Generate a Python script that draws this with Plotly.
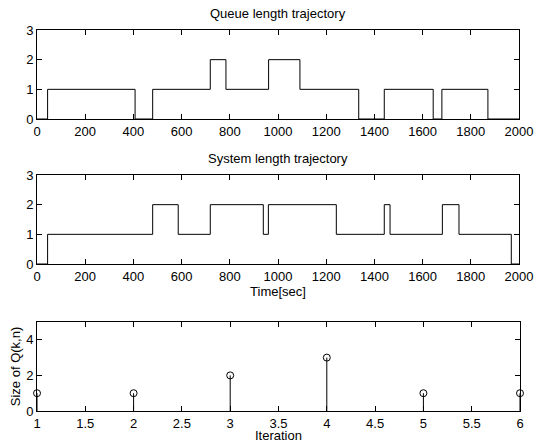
import plotly.graph_objects as go

# Data
queue_times = [0, 44, 407, 480, 719, 784, 961, 1091, 1335, 1441, 1644, 1680, 1871, 2000]
queue_values = [0, 1, 0, 1, 2, 1, 2, 1, 0, 1, 0, 1, 0, 0]
system_times = [0, 44, 480, 586, 719, 939, 960, 1242, 1441, 1465, 1682, 1751, 1968, 2000]
system_values = [0, 1, 2, 1, 2, 1, 2, 1, 2, 1, 2, 1, 0, 0]
iterations = [1, 2, 3, 4, 5, 6]
q_sizes = [1, 1, 2, 3, 1, 1]

W, H = 535, 443
FONT = "Liberation Sans, Arial, Helvetica, sans-serif"
FS = 13

def px_x(a, b):
    return [a / W, b / W]

def px_y(top, bottom):
    return [1 - bottom / H, 1 - top / H]

fig = go.Figure()
fig.add_trace(go.Scatter(x=queue_times, y=queue_values, mode="lines", line=dict(shape="hv", color="black", width=1),
                         xaxis="x", yaxis="y", showlegend=False))
fig.add_trace(go.Scatter(x=system_times, y=system_values, mode="lines", line=dict(shape="hv", color="black", width=1),
                         xaxis="x2", yaxis="y2", showlegend=False))

stem_x, stem_y = [], []
for it, v in zip(iterations, q_sizes):
    stem_x += [it, it, None]
    stem_y += [0, v, None]
fig.add_trace(go.Scatter(x=stem_x, y=stem_y, mode="lines", line=dict(color="black", width=1),
                         xaxis="x3", yaxis="y3", showlegend=False, cliponaxis=False))
fig.add_trace(go.Scatter(x=iterations, y=q_sizes, mode="markers",
                         marker=dict(symbol="circle-open", size=7, color="black", line=dict(width=1)),
                         xaxis="x3", yaxis="y3", showlegend=False, cliponaxis=False))

axcommon = dict(showgrid=False, zeroline=False, showline=True, linecolor="black", linewidth=1,
                mirror="ticks", ticks="inside", ticklen=5, tickcolor="black", automargin=False,
                tickfont=dict(family=FONT, size=FS, color="black"))

fig.update_layout(
    width=W, height=H, margin=dict(l=0, r=0, t=0, b=0),
    paper_bgcolor="white", plot_bgcolor="white",
    font=dict(family=FONT, size=FS, color="black"),
    xaxis=dict(domain=px_x(37, 519), range=[0, 2000], tickvals=list(range(0, 2001, 200)), anchor="y", **axcommon),
    yaxis=dict(domain=px_y(30, 119), range=[0, 3], tickvals=[0, 1, 2, 3], anchor="x", **axcommon),
    xaxis2=dict(domain=px_x(37, 519), range=[0, 2000], tickvals=list(range(0, 2001, 200)), anchor="y2",
                title=dict(text="Time[sec]", standoff=0, font=dict(family=FONT, size=FS)), **axcommon),
    yaxis2=dict(domain=px_y(175, 264), range=[0, 3], tickvals=[0, 1, 2, 3], anchor="x2", **axcommon),
    xaxis3=dict(domain=px_x(37, 520), range=[1, 6], tickvals=[1, 1.5, 2, 2.5, 3, 3.5, 4, 4.5, 5, 5.5, 6],
                ticktext=["1", "1.5", "2", "2.5", "3", "3.5", "4", "4.5", "5", "5.5", "6"], anchor="y3",
                title=dict(text="Iteration", standoff=0, font=dict(family=FONT, size=FS)), **axcommon),
    yaxis3=dict(domain=px_y(322, 411), range=[0, 5], tickvals=[0, 2, 4], anchor="x3",
                title=dict(text="Size of Q(k,n)", standoff=2, font=dict(family=FONT, size=FS)), **axcommon),
    annotations=[
        dict(text="Queue length trajectory", x=278 / W, y=1 - 13 / H, xref="paper", yref="paper",
             xanchor="center", yanchor="middle", showarrow=False, font=dict(family=FONT, size=FS)),
        dict(text="System length trajectory", x=278 / W, y=1 - 158 / H, xref="paper", yref="paper",
             xanchor="center", yanchor="middle", showarrow=False, font=dict(family=FONT, size=FS)),
    ],
)

fig.write_html("out.html", config={"displayModeBar": False},
               post_script="document.body.style.margin='0';document.body.style.overflow='hidden';")
